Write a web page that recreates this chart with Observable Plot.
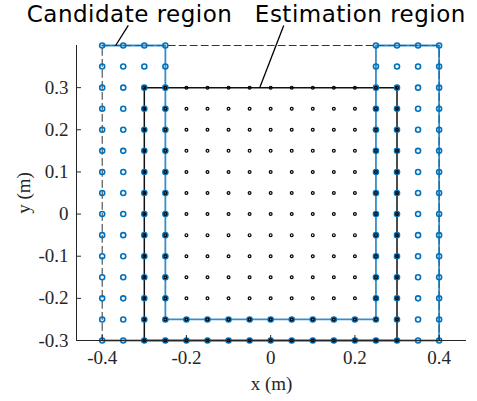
<!DOCTYPE html>
<html>
<head>
<meta charset="utf-8">
<script src="https://cdn.jsdelivr.net/npm/d3@7"></script>
<script src="https://cdn.jsdelivr.net/npm/@observablehq/plot@0.6"></script>
<style>
  body { margin: 0; background: #fff; }
  #chart svg { overflow: visible; }
</style>
</head>
<body>
<div id="chart"></div>
<script>
// Grid coordinates (m)
const gridX = [-0.4, -0.35, -0.3, -0.25, -0.2, -0.15, -0.1, -0.05, 0, 0.05, 0.1, 0.15, 0.2, 0.25, 0.3, 0.35, 0.4];
const gridY = [-0.3, -0.25, -0.2, -0.15, -0.1, -0.05, 0, 0.05, 0.1, 0.15, 0.2, 0.25, 0.3, 0.35, 0.4];

// Candidate region (U-shaped band) limits
const candOuterX = [-0.4, 0.4];
const candOuterY = [-0.3, 0.4];
const candInnerX = [-0.25, 0.25];
const candInnerYmin = -0.25;

// Estimation region limits
const estX = [-0.3, 0.3];
const estY = [-0.3, 0.3];

// Outline polylines
const candOutlineX = [-0.4, -0.25, -0.25, 0.25, 0.25, 0.4, 0.4, -0.4];
const candOutlineY = [0.4, 0.4, -0.25, -0.25, 0.4, 0.4, -0.3, -0.3];
const boxOutlineX = [-0.4, 0.4, 0.4, -0.4, -0.4];
const boxOutlineY = [0.4, 0.4, -0.3, -0.3, 0.4];
const estOutlineX = [-0.3, 0.3, 0.3, -0.3, -0.3];
const estOutlineY = [0.3, 0.3, -0.3, -0.3, 0.3];

// Axis ticks and labels
const xTicks = [-0.4, -0.2, 0, 0.2, 0.4];
const yTicks = [-0.3, -0.2, -0.1, 0, 0.1, 0.2, 0.3];
const xTickLabels = ["-0.4", "-0.2", "0", "0.2", "0.4"];
const yTickLabels = ["-0.3", "-0.2", "-0.1", "0", "0.1", "0.2", "0.3"];

// Annotations
const annoLabels = ["Candidate region", "Estimation region"];
const annoTextX = [-0.335, 0.213];
const annoTextY = [0.455, 0.455];
const annoFromX = [-0.368, -0.026];
const annoFromY = [0.4, 0.3];
const annoToX = [-0.338, 0.031];
const annoToY = [0.4476, 0.4476];

const eps = 1e-9;
const candPts = [];
const estPts = [];
for (const x of gridX) for (const y of gridY) {
  const inOuter = x >= candOuterX[0] - eps && x <= candOuterX[1] + eps && y >= candOuterY[0] - eps && y <= candOuterY[1] + eps;
  const inInner = x > candInnerX[0] + eps && x < candInnerX[1] - eps && y > candInnerYmin + eps;
  if (inOuter && !inInner) candPts.push({x, y});
  if (x >= estX[0] - eps && x <= estX[1] + eps && y >= estY[0] - eps && y <= estY[1] + eps) estPts.push({x, y});
}
const toPts = (xs, ys) => xs.map((x, i) => ({x, y: ys[i]}));
const anno = annoLabels.map((t, i) => ({t, x: annoTextX[i], y: annoTextY[i], x1: annoFromX[i], y1: annoFromY[i], x2: annoToX[i], y2: annoToY[i]}));
const xTickData = xTicks.map((v, i) => ({v, t: xTickLabels[i]}));
const yTickData = yTicks.map((v, i) => ({v, t: yTickLabels[i]}));

const blue = "#0072BD";
const axisColor = "#262626";
const serif = "'Liberation Serif', 'Times New Roman', serif";

const chart = Plot.plot({
  width: 477,
  height: 401,
  marginLeft: 76,
  marginRight: 11,
  marginTop: 45,
  marginBottom: 61,
  style: "font-family: 'Liberation Serif', 'Times New Roman', serif; font-size: 19px; color: #262626; background: #fff; overflow: visible;",
  x: {domain: [-0.461, 0.465], ticks: xTicks},
  y: {domain: [-0.3, 0.4], ticks: yTicks},
  marks: [
    Plot.line(toPts(boxOutlineX, boxOutlineY), {x: "x", y: "y", stroke: "#333", strokeWidth: 1, strokeDasharray: "7,4"}),
    Plot.line(toPts(estOutlineX, estOutlineY), {x: "x", y: "y", stroke: "#111", strokeWidth: 1.5}),
    Plot.line(toPts(candOutlineX, candOutlineY), {x: "x", y: "y", stroke: blue, strokeWidth: 1.8, strokeOpacity: 0.8}),
    Plot.dot(candPts, {x: "x", y: "y", r: 2.5, stroke: blue, strokeWidth: 1.6, fill: "none"}),
    Plot.dot(estPts, {x: "x", y: "y", r: 1.4, stroke: "#000", strokeWidth: 1.2, fill: "none"}),
    Plot.axisX({ticks: xTicks, tickSize: -5, tickFormat: () => "", label: "x (m)", labelAnchor: "center", labelArrow: "none", labelOffset: 49, stroke: axisColor, fontSize: 19, fontFamily: serif}),
    Plot.axisY({ticks: yTicks, tickSize: -5, tickFormat: () => "", label: "y (m)", labelAnchor: "center", labelArrow: "none", labelOffset: 60, stroke: axisColor, fontSize: 19, fontFamily: serif}),
    Plot.text(xTickData, {x: "v", text: "t", frameAnchor: "bottom", dy: 17, lineAnchor: "middle", textAnchor: "middle", fontFamily: serif, fontSize: 19, fill: axisColor}),
    Plot.text(yTickData, {y: "v", text: "t", frameAnchor: "left", dx: -8, lineAnchor: "middle", textAnchor: "end", fontFamily: serif, fontSize: 19, fill: axisColor}),
    Plot.ruleY([-0.3], {stroke: axisColor, strokeWidth: 1}),
    Plot.ruleX([-0.461], {stroke: axisColor, strokeWidth: 1}),
    Plot.link(anno, {x1: "x1", y1: "y1", x2: "x2", y2: "y2", stroke: "#000", strokeWidth: 1.3}),
    Plot.text(anno, {x: "x", y: "y", text: "t", textAnchor: "middle", lineAnchor: "bottom", fontFamily: "'DejaVu Sans', sans-serif", fontSize: 23, fill: "#000"})
  ]
});
d3.select(chart).selectAll("text").filter(function() { return this.textContent.includes("region"); })
  .style("letter-spacing", "0.5px");
document.getElementById("chart").appendChild(chart);
</script>
</body>
</html>
